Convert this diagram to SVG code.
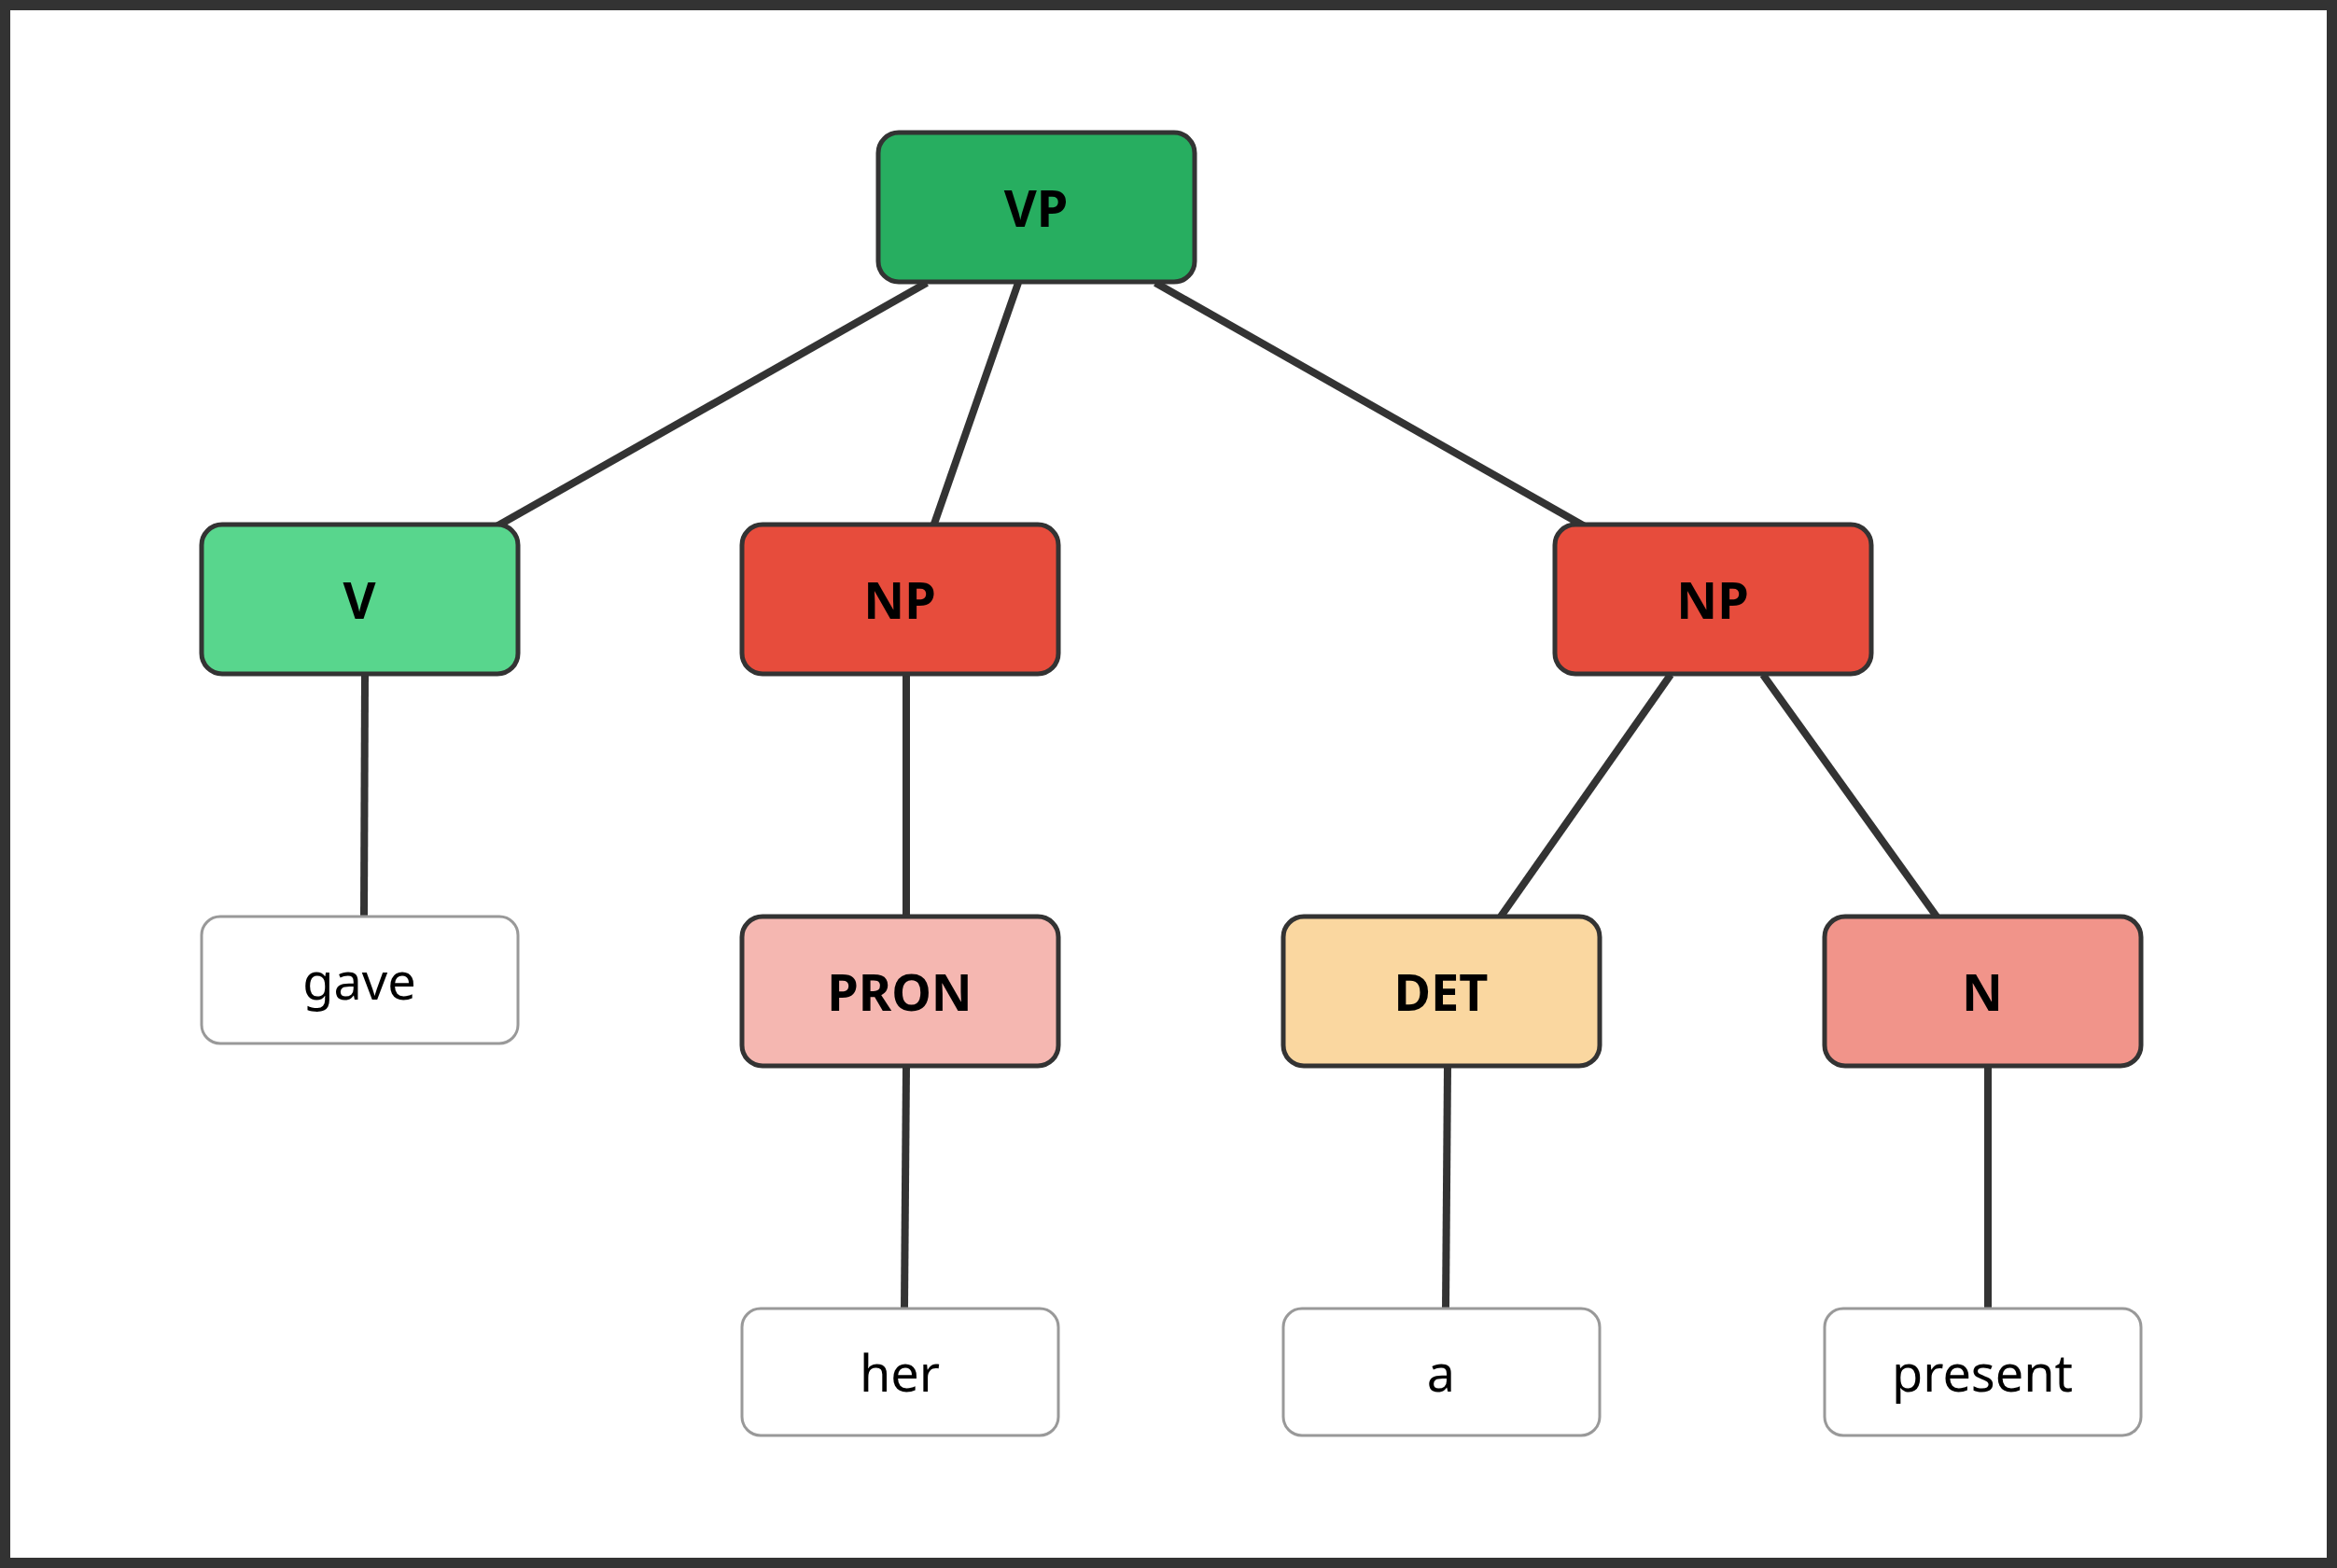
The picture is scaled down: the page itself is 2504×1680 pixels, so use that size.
<svg xmlns="http://www.w3.org/2000/svg" width="2504" height="1680" viewBox="0 0 2504 1680">
<style>
.n rect{stroke:#333;stroke-width:5}
.n text{font-family:"Noto Sans","Open Sans",sans-serif;font-weight:bold;font-size:54px;fill:#000;text-anchor:middle;dominant-baseline:central}
.l rect{fill:#fff;stroke:#999;stroke-width:3}
.l text{font-family:"Noto Sans","Open Sans",sans-serif;font-size:54px;fill:#000;text-anchor:middle;dominant-baseline:central}
#edges line{stroke:#333;stroke-width:8}
</style>
<rect x="0" y="0" width="2504" height="1680" fill="#fff"/>
<rect x="5.5" y="5.5" width="2493" height="1669" fill="none" stroke="#333" stroke-width="11"/>
<g id="edges">
<line x1="993" y1="303" x2="532" y2="564"/>
<line x1="1091" y1="303" x2="1000" y2="564"/>
<line x1="1238" y1="303" x2="1698" y2="564"/>
<line x1="391" y1="723" x2="390" y2="982"/>
<line x1="971" y1="723" x2="971" y2="982"/>
<line x1="1790" y1="723" x2="1608" y2="982"/>
<line x1="1889" y1="723" x2="2075" y2="982"/>
<line x1="971" y1="1143" x2="969" y2="1402"/>
<line x1="1551" y1="1143" x2="1549" y2="1402"/>
<line x1="2130" y1="1143" x2="2130" y2="1402"/>
</g>
<g id="VP" class="n"><rect x="941" y="142" width="339" height="160" rx="22" fill="#27ae60"/><text x="1110" y="222">VP</text></g>
<g id="V" class="n"><rect x="216" y="562" width="339" height="160" rx="22" fill="#58d68d"/><text x="385" y="642">V</text></g>
<g id="NP1" class="n"><rect x="795" y="562" width="339" height="160" rx="22" fill="#e74c3c"/><text x="964" y="642">NP</text></g>
<g id="NP2" class="n"><rect x="1666" y="562" width="339" height="160" rx="22" fill="#e74c3c"/><text x="1835" y="642">NP</text></g>
<g id="PRON" class="n"><rect x="795" y="982" width="339" height="160" rx="22" fill="#f5b7b1"/><text x="964" y="1062">PRON</text></g>
<g id="DET" class="n"><rect x="1375" y="982" width="339" height="160" rx="22" fill="#fad7a0"/><text x="1544" y="1062">DET</text></g>
<g id="N" class="n"><rect x="1955" y="982" width="339" height="160" rx="22" fill="#f1948a"/><text x="2124" y="1062">N</text></g>
<g id="gave" class="l"><rect x="216" y="982" width="339" height="136" rx="20"/><text x="385" y="1050">gave</text></g>
<g id="her" class="l"><rect x="795" y="1402" width="339" height="136" rx="20"/><text x="964" y="1470">her</text></g>
<g id="a" class="l"><rect x="1375" y="1402" width="339" height="136" rx="20"/><text x="1544" y="1470">a</text></g>
<g id="present" class="l"><rect x="1955" y="1402" width="339" height="136" rx="20"/><text x="2124" y="1470">present</text></g>
</svg>
